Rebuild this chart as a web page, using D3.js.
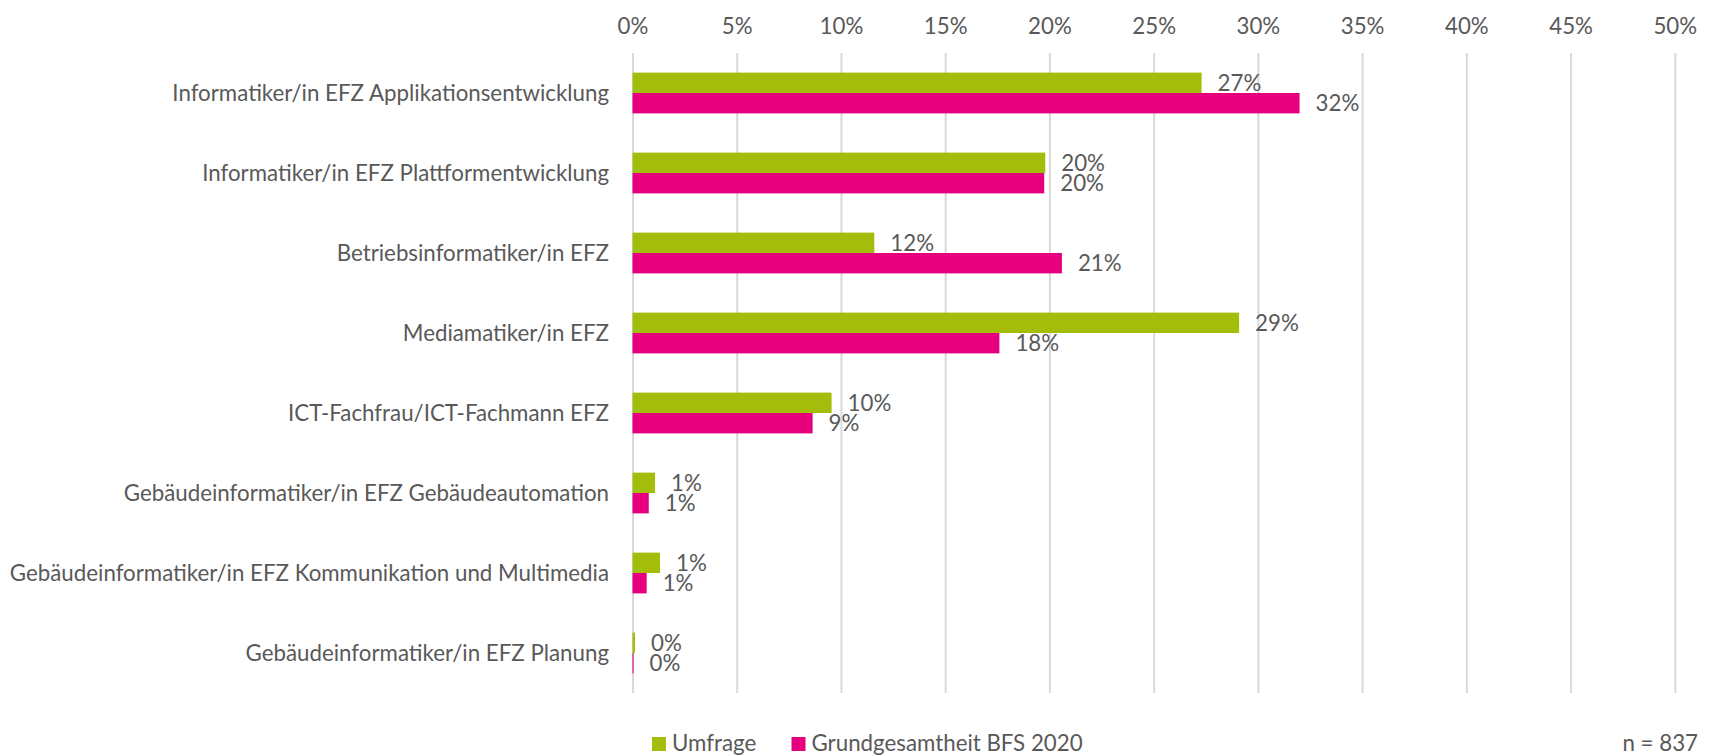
<!DOCTYPE html>
<html>
<head>
<meta charset="utf-8">
<script src="https://cdn.jsdelivr.net/npm/d3@7"></script>
<style>
  body { margin: 0; background: #fff; }
  svg text { font-family: Lato, "Open Sans", sans-serif; fill: #595959; }
</style>
</head>
<body>
<div class="chart"></div>
<script>

	/* ---------------------------------
		Data
	------------------------------------*/

	var categories = [
		"Informatiker/in EFZ Applikationsentwicklung",
		"Informatiker/in EFZ Plattformentwicklung",
		"Betriebsinformatiker/in EFZ",
		"Mediamatiker/in EFZ",
		"ICT-Fachfrau/ICT-Fachmann EFZ",
		"Gebäudeinformatiker/in EFZ Gebäudeautomation",
		"Gebäudeinformatiker/in EFZ Kommunikation und Multimedia",
		"Gebäudeinformatiker/in EFZ Planung"
	];

	var seriesNames = ["Umfrage", "Grundgesamtheit BFS 2020"];

	// values in percent
	var umfrage = [27.3, 19.8, 11.6, 29.1, 9.55, 1.08, 1.32, 0.12];
	var bfs2020 = [32.0, 19.75, 20.6, 17.6, 8.64, 0.78, 0.68, 0.05];

	var xTicks = [0, 5, 10, 15, 20, 25, 30, 35, 40, 45, 50];

	var note = "n = 837";

	/* ---------------------------------
		Setup
	------------------------------------*/

	var w = 1709;
	var h = 756;
	var fontSize = 22.3;
	var colors = ["#A3BD0A", "#E6007E"];

	var rows = categories.map(function(c, i) {
		return { name: c, values: [umfrage[i], bfs2020[i]] };
	});

	var xScale = d3.scaleLinear()
		.domain([0, 50])
		.range([632.5, 1674.8]);

	var yScale = d3.scaleBand()
		.domain(categories)
		.range([53, 693])
		.paddingInner(0.49)
		.paddingOuter(0.245);

	var ySub = d3.scaleBand()
		.domain(seriesNames)
		.range([0, yScale.bandwidth()]);

	var svg = d3.select(".chart")
		.append("svg")
		.attr("width", w)
		.attr("height", h);

	/* ---------------------------------
		Axis + gridlines
	------------------------------------*/

	var xAxis = d3.axisTop(xScale)
		.tickValues(xTicks)
		.tickSize(-(693 - 53))
		.tickPadding(19)
		.tickFormat(function(d) { return d + "%"; });

	var gAxis = svg.append("g")
		.attr("transform", "translate(0,53)")
		.call(xAxis);

	gAxis.select(".domain").remove();
	gAxis.selectAll(".tick line")
		.attr("stroke", "#D9D9D9")
		.attr("stroke-width", 2);
	gAxis.selectAll(".tick text")
		.attr("font-size", fontSize)
		.attr("font-family", null)
		.attr("fill", "#595959");

	// category labels
	svg.append("g")
		.selectAll("text")
		.data(categories)
		.enter()
		.append("text")
		.attr("x", 609)
		.attr("y", function(d) { return yScale(d) + yScale.bandwidth() / 2; })
		.attr("dy", "0.35em")
		.attr("text-anchor", "end")
		.attr("font-size", fontSize)
		.text(function(d) { return d; });

	/* ---------------------------------
		Bars
	------------------------------------*/

	var groups = svg.append("g")
		.selectAll("g")
		.data(rows)
		.enter()
		.append("g")
		.attr("transform", function(d) { return "translate(0," + yScale(d.name) + ")"; });

	var cells = groups.selectAll("g")
		.data(function(d) {
			return d.values.map(function(v, i) { return { series: seriesNames[i], value: v, idx: i }; });
		})
		.enter()
		.append("g");

	cells.append("rect")
		.attr("x", xScale(0))
		.attr("y", function(d) { return ySub(d.series); })
		.attr("width", function(d) { return xScale(d.value) - xScale(0); })
		.attr("height", ySub.bandwidth())
		.attr("fill", function(d) { return colors[d.idx]; });

	cells.append("text")
		.attr("x", function(d) { return xScale(d.value) + 16; })
		.attr("y", function(d) { return ySub(d.series) + ySub.bandwidth() / 2; })
		.attr("dy", "0.35em")
		.attr("font-size", fontSize)
		.text(function(d) { return Math.round(d.value) + "%"; });

	/* ---------------------------------
		Legend
	------------------------------------*/

	var legendX = [652, 791.5];

	var legend = svg.append("g")
		.selectAll("g")
		.data(seriesNames)
		.enter()
		.append("g")
		.attr("transform", function(d, i) { return "translate(" + legendX[i] + ",737)"; });

	legend.append("rect")
		.attr("width", 14)
		.attr("height", 14)
		.attr("fill", function(d, i) { return colors[i]; });

	legend.append("text")
		.attr("x", 20)
		.attr("y", 14)
		.attr("font-size", fontSize)
		.text(function(d) { return d; });

	svg.append("text")
		.attr("x", 1698)
		.attr("y", 751)
		.attr("text-anchor", "end")
		.attr("font-size", fontSize)
		.text(note);

</script>
</body>
</html>
